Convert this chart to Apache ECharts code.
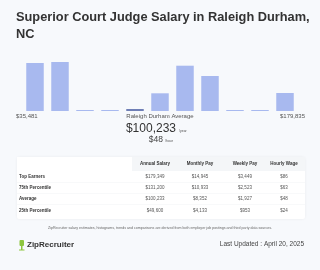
<!DOCTYPE html>
<html>
<head>
<meta charset="utf-8">
<script src="https://cdn.jsdelivr.net/npm/echarts@6/dist/echarts.min.js"></script>
<style>
  html, body { margin: 0; padding: 0; background: #f7f9fc; }
  #main { width: 320px; height: 270px; }
</style>
</head>
<body>
<div id="main"></div>
<script>
    // histogram bars (relative heights)
    var bins = ['b1', 'b2', 'b3', 'b4', 'b5', 'b6', 'b7', 'b8', 'b9', 'b10', 'b11'];
    var counts = [48, 49, 1, 1, 2, 17.7, 45.3, 35, 1, 1, 18];
    var avgBin = 4;

    var tableHead = ['Annual Salary', 'Monthly Pay', 'Weekly Pay', 'Hourly Wage'];
    var rowNames = ['Top Earners', '75th Percentile', 'Average', '25th Percentile'];
    var annual = ['$179,349', '$131,200', '$100,233', '$49,600'];
    var monthly = ['$14,945', '$10,933', '$8,352', '$4,133'];
    var weekly = ['$3,449', '$2,523', '$1,927', '$953'];
    var hourly = ['$86', '$63', '$48', '$24'];

    var font = '"Liberation Sans", Arial, sans-serif';
    var colX = [155, 200, 245, 284];
    var rowY = [177, 188, 199, 211];

    var graphics = [
        { type: 'text', left: 16, top: 9, style: { text: 'Superior Court Judge Salary in Raleigh Durham,\nNC', font: 'bold 12.8px ' + font, fill: '#333', lineHeight: 17 } },
        { type: 'text', left: 16, top: 113, style: { text: '$35,481', font: '6px ' + font, fill: '#555' } },
        { type: 'text', x: 160, y: 113, style: { text: 'Raleigh Durham Average', font: '6px ' + font, fill: '#555', textAlign: 'center' } },
        { type: 'text', right: 15, top: 113, style: { text: '$179,835', font: '6px ' + font, fill: '#555', textAlign: 'right' } },
        { type: 'text', x: 176, y: 123, style: { text: '$100,233', font: '12px ' + font, fill: '#333', textAlign: 'right' } },
        { type: 'text', x: 179, y: 129, style: { text: '/year', font: '3.5px ' + font, fill: '#555' } },
        { type: 'text', x: 163, y: 135, style: { text: '$48', font: '8.5px ' + font, fill: '#444', textAlign: 'right' } },
        { type: 'text', x: 165, y: 139, style: { text: '/hour', font: '3.5px ' + font, fill: '#555' } },
        // table box
        { type: 'rect', shape: { x: 17, y: 157, width: 288, height: 62, r: 2 }, style: { fill: '#fff', shadowBlur: 3, shadowColor: 'rgba(0,0,0,0.06)' } },
        { type: 'rect', shape: { x: 17, y: 157, width: 288, height: 14 }, style: { fill: '#f4f6f8' } },
        { type: 'rect', shape: { x: 17, y: 157, width: 115, height: 14 }, style: { fill: '#fff' } },
        { type: 'text', x: 160, y: 228, style: { text: 'ZipRecruiter salary estimates, histograms, trends and comparisons are derived from both employer job postings and third party data sources.', font: '3.6px ' + font, fill: '#666', textAlign: 'center', textVerticalAlign: 'middle' } },
        // logo
        { type: 'rect', shape: { x: 19.5, y: 240, width: 4.5, height: 6, r: 1 }, style: { fill: '#8dc63f' } },
        { type: 'rect', shape: { x: 21, y: 246, width: 1.5, height: 4 }, style: { fill: '#8dc63f' } },
        { type: 'rect', shape: { x: 19, y: 249.5, width: 5.5, height: 1 }, style: { fill: '#8dc63f' } },
        { type: 'text', x: 27, y: 245, style: { text: 'ZipRecruiter', font: 'bold 8px ' + font, fill: '#333', textVerticalAlign: 'middle' } },
        { type: 'text', right: 16, top: 241, style: { text: 'Last Updated : April 20, 2025', font: '6.5px ' + font, fill: '#444', textAlign: 'right' } }
    ];

    tableHead.forEach(function (h, i) {
        graphics.push({ type: 'text', x: colX[i], y: 164, style: { text: h, font: 'bold 4.5px ' + font, fill: '#333', textAlign: 'center', textVerticalAlign: 'middle' } });
    });
    rowNames.forEach(function (n, r) {
        graphics.push({ type: 'text', x: 19, y: rowY[r], style: { text: n, font: 'bold 4.5px ' + font, fill: '#333', textVerticalAlign: 'middle' } });
        [annual, monthly, weekly, hourly].forEach(function (col, c) {
            graphics.push({ type: 'text', x: colX[c], y: rowY[r], style: { text: col[r], font: '4.5px ' + font, fill: '#555', textAlign: 'center', textVerticalAlign: 'middle' } });
        });
        if (r < rowNames.length - 1) {
            graphics.push({ type: 'line', shape: { x1: 17, y1: rowY[r] + 5.5, x2: 305, y2: rowY[r] + 5.5 }, style: { stroke: '#f0f2f4', lineWidth: 0.5 } });
        }
    });

    var myChart = echarts.init(document.getElementById('main'));
    var option = {
        animation: false,
        grid: { left: 22.5, width: 275, top: 61, height: 50 },
        xAxis: {
            type: 'category',
            data: bins,
            axisLine: { show: false },
            axisTick: { show: false },
            axisLabel: { show: false }
        },
        yAxis: {
            type: 'value',
            min: 0,
            max: 50,
            show: false,
            splitLine: { show: false }
        },
        series: [
            {
                type: 'bar',
                barWidth: '70%',
                data: counts.map(function (v, i) {
                    return { value: v, itemStyle: { color: i === avgBin ? '#6f7fb6' : '#a8b9ef' } };
                })
            }
        ],
        graphic: graphics
    };
    myChart.setOption(option);
</script>
</body>
</html>
